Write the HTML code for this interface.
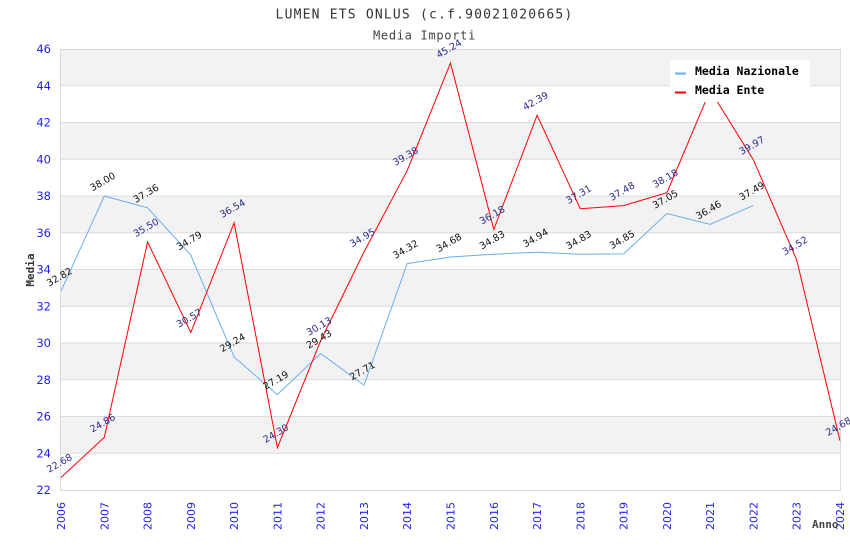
<!DOCTYPE html>
<html>
<head>
<meta charset="utf-8">
<style>
html,body{margin:0;padding:0;background:#fff;}
svg{display:block;}
.yt{font-family:"DejaVu Sans","Liberation Sans",sans-serif;font-size:11.5px;fill:#2323f0;}
.xt{font-family:"DejaVu Sans","Liberation Sans",sans-serif;font-size:11px;fill:#2323f0;}
.ln{font-family:"DejaVu Sans","Liberation Sans",sans-serif;font-size:9.6px;fill:#111;}
.le{font-family:"DejaVu Sans","Liberation Sans",sans-serif;font-size:9.6px;fill:#2a2a8f;}
.mono{font-family:"DejaVu Sans Mono","Liberation Mono",monospace;}
</style>
</head>
<body>
<svg width="850" height="550" viewBox="0 0 850 550" xmlns="http://www.w3.org/2000/svg">
<rect x="0" y="0" width="850" height="550" fill="#fff"/>
<g fill="#f2f2f2">
<rect x="61" y="49" width="779" height="36.75"/>
<rect x="61" y="122.5" width="779" height="36.75"/>
<rect x="61" y="196" width="779" height="36.75"/>
<rect x="61" y="269.5" width="779" height="36.75"/>
<rect x="61" y="343" width="779" height="36.75"/>
<rect x="61" y="416.5" width="779" height="36.75"/>
</g>
<g stroke="#dcdcdc" stroke-width="1">
<line x1="61" y1="49.5" x2="840" y2="49.5"/>
<line x1="61" y1="85.75" x2="840" y2="85.75"/>
<line x1="61" y1="122.5" x2="840" y2="122.5"/>
<line x1="61" y1="159.25" x2="840" y2="159.25"/>
<line x1="61" y1="196" x2="840" y2="196"/>
<line x1="61" y1="232.75" x2="840" y2="232.75"/>
<line x1="61" y1="269.5" x2="840" y2="269.5"/>
<line x1="61" y1="306.25" x2="840" y2="306.25"/>
<line x1="61" y1="343" x2="840" y2="343"/>
<line x1="61" y1="379.75" x2="840" y2="379.75"/>
<line x1="61" y1="416.5" x2="840" y2="416.5"/>
<line x1="61" y1="453.25" x2="840" y2="453.25"/>
<line x1="61" y1="490.5" x2="840.5" y2="490.5"/>
<line x1="60.5" y1="49" x2="60.5" y2="491"/>
<line x1="840.5" y1="49" x2="840.5" y2="491"/>
</g>
<g class="yt" text-anchor="end">
<text x="51" y="53">46</text>
<text x="51" y="90">44</text>
<text x="51" y="126.5">42</text>
<text x="51" y="163.5">40</text>
<text x="51" y="200">38</text>
<text x="51" y="237">36</text>
<text x="51" y="273.5">34</text>
<text x="51" y="310.5">32</text>
<text x="51" y="347">30</text>
<text x="51" y="384">28</text>
<text x="51" y="420.5">26</text>
<text x="51" y="457.5">24</text>
<text x="51" y="494">22</text>
</g>
<g class="xt" text-anchor="end">
<text transform="translate(65,502) rotate(-90)">2006</text>
<text transform="translate(108.3,502) rotate(-90)">2007</text>
<text transform="translate(151.6,502) rotate(-90)">2008</text>
<text transform="translate(194.8,502) rotate(-90)">2009</text>
<text transform="translate(238.1,502) rotate(-90)">2010</text>
<text transform="translate(281.4,502) rotate(-90)">2011</text>
<text transform="translate(324.7,502) rotate(-90)">2012</text>
<text transform="translate(368,502) rotate(-90)">2013</text>
<text transform="translate(411.2,502) rotate(-90)">2014</text>
<text transform="translate(454.5,502) rotate(-90)">2015</text>
<text transform="translate(497.8,502) rotate(-90)">2016</text>
<text transform="translate(541.1,502) rotate(-90)">2017</text>
<text transform="translate(584.3,502) rotate(-90)">2018</text>
<text transform="translate(627.6,502) rotate(-90)">2019</text>
<text transform="translate(670.9,502) rotate(-90)">2020</text>
<text transform="translate(714.2,502) rotate(-90)">2021</text>
<text transform="translate(757.4,502) rotate(-90)">2022</text>
<text transform="translate(800.7,502) rotate(-90)">2023</text>
<text transform="translate(844,502) rotate(-90)">2024</text>
</g>
<polyline fill="none" stroke="#6aaef0" stroke-width="1" points="61,291.2 104.3,196 147.6,207.8 190.8,255 234.1,357 277.4,394.6 320.7,353.5 364,385.1 407.2,263.6 450.5,257 493.8,254.2 537.1,252.2 580.3,254.2 623.6,253.9 666.9,213.5 710.2,224.3 753.4,205.4"/>
<polyline fill="none" stroke="#ff0000" stroke-width="1" points="61,477.5 104.3,437.4 147.6,241.9 190.8,332.5 234.1,222.8 277.4,447.7 320.7,340.6 364,252 407.2,170.6 450.5,63 493.8,229.4 537.1,115.3 580.3,208.7 623.6,205.6 666.9,192.7 710.2,90.3 753.4,159.8 796.7,260 840,440.8"/>
<g class="ln" text-anchor="middle">
<text transform="translate(61,279.7) rotate(-30)">32.82</text>
<text transform="translate(104.3,184.5) rotate(-30)">38.00</text>
<text transform="translate(147.6,196.3) rotate(-30)">37.36</text>
<text transform="translate(190.8,243.5) rotate(-30)">34.79</text>
<text transform="translate(234.1,345.5) rotate(-30)">29.24</text>
<text transform="translate(277.4,383.1) rotate(-30)">27.19</text>
<text transform="translate(320.7,342) rotate(-30)">29.43</text>
<text transform="translate(364,373.6) rotate(-30)">27.71</text>
<text transform="translate(407.2,252.1) rotate(-30)">34.32</text>
<text transform="translate(450.5,245.5) rotate(-30)">34.68</text>
<text transform="translate(493.8,242.7) rotate(-30)">34.83</text>
<text transform="translate(537.1,240.7) rotate(-30)">34.94</text>
<text transform="translate(580.3,242.7) rotate(-30)">34.83</text>
<text transform="translate(623.6,242.4) rotate(-30)">34.85</text>
<text transform="translate(666.9,202) rotate(-30)">37.05</text>
<text transform="translate(710.2,212.8) rotate(-30)">36.46</text>
<text transform="translate(753.4,193.9) rotate(-30)">37.49</text>
</g>
<g class="le" text-anchor="middle">
<text transform="translate(61,466) rotate(-30)">22.68</text>
<text transform="translate(104.3,425.9) rotate(-30)">24.86</text>
<text transform="translate(147.6,230.4) rotate(-30)">35.50</text>
<text transform="translate(190.8,321) rotate(-30)">30.57</text>
<text transform="translate(234.1,211.3) rotate(-30)">36.54</text>
<text transform="translate(277.4,436.2) rotate(-30)">24.30</text>
<text transform="translate(320.7,329.1) rotate(-30)">30.13</text>
<text transform="translate(364,240.5) rotate(-30)">34.95</text>
<text transform="translate(407.2,159.1) rotate(-30)">39.38</text>
<text transform="translate(450.5,51.5) rotate(-30)">45.24</text>
<text transform="translate(493.8,217.9) rotate(-30)">36.18</text>
<text transform="translate(537.1,103.8) rotate(-30)">42.39</text>
<text transform="translate(580.3,197.2) rotate(-30)">37.31</text>
<text transform="translate(623.6,194.1) rotate(-30)">37.48</text>
<text transform="translate(666.9,181.2) rotate(-30)">38.18</text>
<text transform="translate(710.2,78.8) rotate(-30)">43.75</text>
<text transform="translate(753.4,148.3) rotate(-30)">39.97</text>
<text transform="translate(796.7,248.5) rotate(-30)">34.52</text>
<text transform="translate(840,429.3) rotate(-30)">24.68</text>
</g>
<rect x="670" y="60" width="140" height="42" fill="#fff"/>
<rect x="675" y="72.5" width="11" height="2" fill="#6aaef0"/>
<rect x="675" y="91.5" width="11" height="2" fill="#ff0000"/>
<text class="mono" x="695" y="75" font-size="11.5" font-weight="bold" fill="#000">Media Nazionale</text>
<text class="mono" x="695" y="94" font-size="11.5" font-weight="bold" fill="#000">Media Ente</text>
<text class="mono" x="424.5" y="18.5" font-size="13" letter-spacing="1.2" text-anchor="middle" fill="#333">LUMEN ETS ONLUS (c.f.90021020665)</text>
<text class="mono" x="424.5" y="39.5" font-size="12" letter-spacing="0.7" text-anchor="middle" fill="#444">Media Importi</text>
<text class="mono" transform="translate(34,270) rotate(-90)" font-size="11" font-weight="bold" text-anchor="middle" fill="#333">Media</text>
<text class="mono" x="812" y="528" font-size="11" font-weight="bold" fill="#444">Anno</text>
</svg>
</body>
</html>
